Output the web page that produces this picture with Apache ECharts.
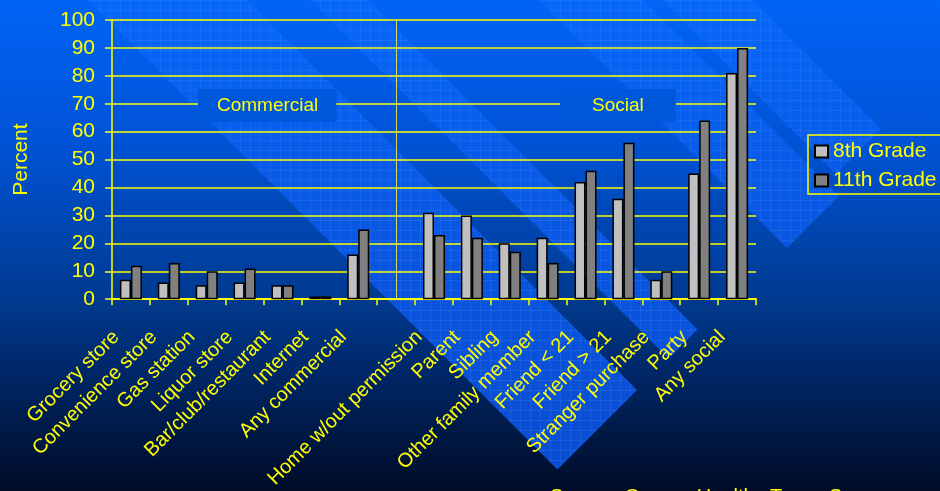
<!DOCTYPE html>
<html>
<head>
<meta charset="utf-8">
<script src="https://cdn.jsdelivr.net/npm/echarts@6/dist/echarts.min.js"></script>
<style>
  html, body { margin: 0; padding: 0; background: #001030; }
  #chart { width: 940px; height: 491px; }
</style>
</head>
<body>
<div id="chart"></div>
<script>
// data (percent)
var categories = ['Grocery store', 'Convenience store', 'Gas station', 'Liquor store',
    'Bar/club/restaurant', 'Internet', 'Any commercial', '',
    'Home w/out permission', 'Parent', 'Sibling', 'Other family member',
    'Friend < 21', 'Friend > 21', 'Stranger purchase', 'Party', 'Any social'];
var grade8 = [7, 6, 5, 6, 5, 1, 16, null, 31, 30, 20, 22, 42, 36, 7, 45, 81];
var grade11 = [12, 13, 10, 11, 5, 1, 25, null, 23, 22, 17, 13, 46, 56, 10, 64, 90];
var seriesNames = ['8th Grade', '11th Grade'];
var groupLabels = ['Commercial', 'Social'];
var dividerIndex = 7; // empty slot between the two groups
var sourceText = 'Source: Oregon Healthy Teens Survey';

var YELLOW = '#ffff00';
var FONT = 'Arial, "Liberation Sans", sans-serif';

var chart = echarts.init(document.getElementById('chart'));

// little grid texture for the diagonal bands
var tex = document.createElement('canvas');
tex.width = 10; tex.height = 10;
var tctx = tex.getContext('2d');
tctx.fillStyle = 'rgba(90,150,255,0.18)';
tctx.fillRect(0, 0, 10, 1);
tctx.fillRect(0, 0, 1, 10);

// diagonal decorative bands: c = y - x range, cut at x + y = t
var bands = [
    {c1: -88, c2: -247, t: 1027},
    {c1: -310, c2: -368, t: 1027},
    {c1: -539, c2: -643, t: 1035},
    {c1: -662, c2: -752, t: 1010}
];
function bandPoints(b) {
    return [
        [-700, -700 + b.c1],
        [(b.t - b.c1) / 2, (b.t + b.c1) / 2],
        [(b.t - b.c2) / 2, (b.t + b.c2) / 2],
        [-700, -700 + b.c2]
    ];
}

var graphics = [{
    type: 'rect', z: -20, silent: true,
    shape: {x: 0, y: 0, width: 940, height: 491},
    style: {
        fill: new echarts.graphic.LinearGradient(0, 0, 0, 1, [
            {offset: 0, color: '#0064f6'},
            {offset: 0.3, color: '#0052d4'},
            {offset: 0.6, color: '#003b92'},
            {offset: 0.8, color: '#00225c'},
            {offset: 1, color: '#000c26'}
        ])
    }
}];
bands.forEach(function (b) {
    graphics.push({
        type: 'polygon', z: -15, silent: true,
        shape: {points: bandPoints(b)},
        style: {
            fill: new echarts.graphic.LinearGradient(0, 0, 0, 491, [
                {offset: 0, color: '#0668fa'},
                {offset: 0.3, color: '#085cea'},
                {offset: 0.6, color: '#0a54de'},
                {offset: 1, color: '#0a4cd0'}
            ], true)
        }
    });
    graphics.push({
        type: 'polygon', z: -14, silent: true,
        shape: {points: bandPoints(b)},
        style: {fill: {image: tex, repeat: 'repeat'}}
    });
});
// group labels sitting on the 70 gridline
graphics.push({
    type: 'text', z: 100, silent: true, left: 198, top: 89,
    style: {
        text: groupLabels[0], fill: YELLOW, font: '19px ' + FONT,
        backgroundColor: '#0057dc', padding: [7, 18, 7, 19]
    }
});
graphics.push({
    type: 'text', z: 100, silent: true, left: 560, top: 89,
    style: {
        text: groupLabels[1], fill: YELLOW, font: '19px ' + FONT,
        backgroundColor: '#0057dc', padding: [7, 32, 7, 32]
    }
});
// source line, cut off by the bottom edge
graphics.push({
    type: 'text', z: 100, silent: true,
    style: {
        text: sourceText, fill: YELLOW, font: '20px ' + FONT,
        x: 550, y: 487, verticalAlign: 'top'
    }
});

var option = {
    animation: false,
    textStyle: {fontFamily: FONT},
    graphic: graphics,
    legend: {
        data: seriesNames,
        orient: 'vertical',
        left: 808,
        top: 135,
        padding: [6, 8, 3, 6],
        itemGap: 8,
        itemWidth: 13,
        itemHeight: 12,
        icon: 'rect',
        borderColor: YELLOW,
        borderWidth: 1.5,
        textStyle: {color: YELLOW, fontSize: 21, fontFamily: FONT}
    },
    grid: {left: 112, right: 184, top: 20, bottom: 191, containLabel: false},
    xAxis: {
        type: 'category',
        data: categories,
        axisLine: {show: true, lineStyle: {color: YELLOW, width: 2}},
        axisTick: {show: true, length: 6, lineStyle: {color: YELLOW, width: 1.5}},
        axisLabel: {
            interval: 0,
            rotate: 45,
            color: YELLOW,
            fontSize: 20,
            fontFamily: FONT,
            margin: 20,
            padding: [0, 21, 0, 0]
        }
    },
    yAxis: {
        type: 'value',
        min: 0,
        max: 100,
        interval: 10,
        name: 'Percent',
        nameLocation: 'middle',
        nameGap: 80,
        nameTextStyle: {color: YELLOW, fontSize: 21, fontFamily: FONT},
        axisLine: {show: true, lineStyle: {color: YELLOW, width: 1.5}},
        axisTick: {show: true, length: 7, lineStyle: {color: YELLOW, width: 1.5}},
        axisLabel: {color: YELLOW, fontSize: 21, fontFamily: FONT, margin: 17},
        splitLine: {show: true, lineStyle: {color: YELLOW, width: 1.5}}
    },
    series: [
        {
            name: seriesNames[0],
            type: 'bar',
            data: grade8,
            barWidth: 11,
            barGap: '0%',
            itemStyle: {color: '#c0c0c0', borderColor: '#000000', borderWidth: 1.5}
        },
        {
            name: seriesNames[1],
            type: 'bar',
            data: grade11,
            barWidth: 11,
            itemStyle: {color: '#808080', borderColor: '#000000', borderWidth: 1.5}
        },
        {
            // carrier for the group divider, centred on the empty slot
            name: 'divider',
            type: 'line',
            data: [],
            silent: true,
            markLine: {
                silent: true,
                symbol: 'none',
                label: {show: false},
                lineStyle: {color: '#d8d860', width: 1, type: 'solid'},
                data: [{xAxis: dividerIndex}]
            }
        }
    ]
};

chart.setOption(option);
window.addEventListener('resize', function () {
    chart.resize();
});
</script>
</body>
</html>
